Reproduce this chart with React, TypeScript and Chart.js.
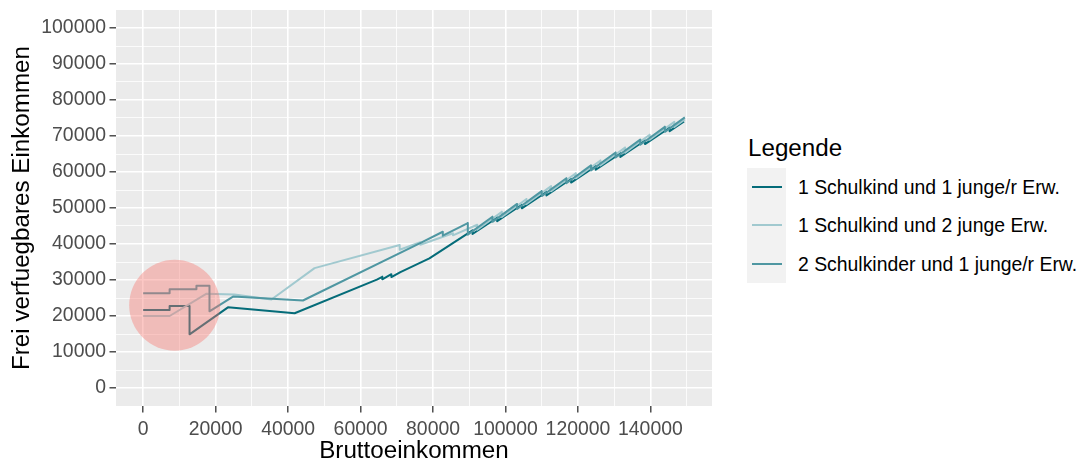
import React, { useEffect, useRef } from "react";
import { Chart, registerables } from "chart.js";

Chart.register(...registerables);

const FONT = '"Liberation Sans", Arial, Helvetica, sans-serif';

const seriesNames = [
  "1 Schulkind und 1 junge/r Erw.",
  "1 Schulkind und 2 junge Erw.",
  "2 Schulkinder und 1 junge/r Erw.",
];
const seriesColors = ["#056C79", "#A1C9CF", "#4F97A2"];

// 1 Schulkind und 1 junge/r Erw.
const s1Income = [0, 7300, 7300, 12800, 12800, 23400, 41800, 64500, 66000, 66000, 68500, 68500, 71000, 79000, 90900, 90900, 97700, 97700, 104500, 104500, 111300, 111300, 118100, 118100, 124900, 124900, 131700, 131700, 138500, 138500, 145300, 145300, 149300];
const s1Value = [21700, 21700, 22800, 22800, 14900, 22400, 20750, 30100, 30900, 30200, 31600, 30800, 32200, 36000, 43772, 42772, 47342, 46342, 50912, 49912, 54482, 53482, 58052, 57052, 61622, 60622, 65192, 64192, 68762, 67762, 72332, 71332, 74020];

// 1 Schulkind und 2 junge Erw.
const s2Income = [0, 7300, 17500, 25200, 35400, 47300, 70800, 70800, 76500, 76500, 85500, 85500, 92200, 92200, 99000, 99000, 105800, 105800, 112600, 112600, 119400, 119400, 126200, 126200, 133000, 133000, 139800, 139800, 146600, 146600, 149500];
const s2Value = [20000, 20000, 26200, 26000, 24600, 33300, 39700, 38400, 40500, 39800, 43000, 42400, 45355, 43955, 48925, 47525, 52495, 51095, 56065, 54665, 59635, 58235, 63205, 61805, 66775, 65375, 70345, 68945, 73915, 72515, 74632];

// 2 Schulkinder und 1 junge/r Erw.
const s3Income = [0, 7300, 7300, 14700, 14700, 18300, 18300, 24800, 44100, 76300, 82700, 82700, 89600, 89600, 96400, 96400, 103200, 103200, 110000, 110000, 116800, 116800, 123600, 123600, 130400, 130400, 137200, 137200, 144000, 144000, 149500];
const s3Value = [26300, 26300, 27400, 27400, 28400, 28400, 21300, 25400, 24300, 40200, 43400, 42300, 45800, 42600, 47560, 46160, 51130, 49730, 54700, 53300, 58270, 56870, 61840, 60440, 65410, 64010, 68980, 67580, 72550, 71150, 75165];

const highlightIncome = [8700];
const highlightValue = [23000];

const xMajorTicks = [0, 20000, 40000, 60000, 80000, 100000, 120000, 140000];
const xMinorTicks = [10000, 30000, 50000, 70000, 90000, 110000, 130000, 150000];
const yMajorTicks = [0, 10000, 20000, 30000, 40000, 50000, 60000, 70000, 80000, 90000, 100000];
const yMinorTicks = [5000, 15000, 25000, 35000, 45000, 55000, 65000, 75000, 85000, 95000];

const toPoints = (xs: number[], ys: number[]) => xs.map((x, i) => ({ x, y: ys[i] }));

const panelBg = {
  id: "panelBg",
  beforeDraw(chart: any) {
    const { ctx, chartArea } = chart;
    ctx.save();
    ctx.fillStyle = "#EBEBEB";
    ctx.fillRect(chartArea.left, chartArea.top, chartArea.right - chartArea.left, chartArea.bottom - chartArea.top);
    ctx.restore();
  },
};

function gridFor(major: number[]) {
  return {
    color: "#FFFFFF",
    lineWidth: (c: any) => (major.includes(c.tick?.value) ? 1.6 : 0.8),
    tickColor: (c: any) => (major.includes(c.tick?.value) ? "#333333" : "rgba(0,0,0,0)"),
    tickLength: 6.5,
    tickWidth: 1.3,
    drawOnChartArea: true,
    drawTicks: true,
  };
}

export default function App() {
  const ref = useRef<HTMLCanvasElement>(null);

  useEffect(() => {
    const canvas = ref.current;
    if (!canvas) return;
    const lineStyle = { borderWidth: 2, pointRadius: 0, tension: 0, borderJoinStyle: "round" };
    const datasets: any[] = [
      {
        label: "highlight",
        data: toPoints(highlightIncome, highlightValue),
        showLine: false,
        pointRadius: 45.5,
        pointBackgroundColor: "rgba(248,118,109,0.4)",
        pointBorderWidth: 0,
        pointBorderColor: "rgba(0,0,0,0)",
        order: 0,
      },
      { label: seriesNames[2], data: toPoints(s3Income, s3Value), borderColor: seriesColors[2], ...lineStyle, order: 1 },
      { label: seriesNames[1], data: toPoints(s2Income, s2Value), borderColor: seriesColors[1], ...lineStyle, order: 2 },
      { label: seriesNames[0], data: toPoints(s1Income, s1Value), borderColor: seriesColors[0], ...lineStyle, order: 3 },
    ];

    const chart = new Chart(canvas, {
      type: "line",
      data: { datasets },
      plugins: [panelBg],
      options: {
        responsive: false,
        animation: false,
        events: [],
        layout: { autoPadding: false, padding: { left: 0, right: 8, top: 10, bottom: 0 } },
        plugins: { legend: { display: false }, tooltip: { enabled: false }, title: { display: false } },
        scales: {
          x: {
            type: "linear",
            min: -7500,
            max: 157000,
            afterBuildTicks: (s: any) => {
              s.ticks = [...xMajorTicks, ...xMinorTicks].sort((a, b) => a - b).map((v) => ({ value: v }));
            },
            afterFit: (s: any) => {
              s.height = 60;
              s.paddingLeft = 0;
              s.paddingRight = 0;
            },
            ticks: {
              autoSkip: false,
              maxRotation: 0,
              minRotation: 0,
              padding: 6,
              color: "#4D4D4D",
              font: { family: FONT, size: 19.4 },
              callback: (v: any) => (xMajorTicks.includes(v) ? String(v) : ""),
            },
            grid: gridFor(xMajorTicks),
            border: { display: false },
            title: {
              display: true,
              text: "Bruttoeinkommen",
              color: "#000000",
              font: { family: FONT, size: 24.2 },
              padding: { top: 0, bottom: 0 },
            },
          },
          y: {
            type: "linear",
            min: -5000,
            max: 105000,
            afterBuildTicks: (s: any) => {
              s.ticks = [...yMajorTicks, ...yMinorTicks].sort((a, b) => a - b).map((v) => ({ value: v }));
            },
            afterFit: (s: any) => {
              s.width = 116;
              s.paddingTop = 0;
              s.paddingBottom = 0;
            },
            ticks: {
              autoSkip: false,
              padding: 3.5,
              color: "#4D4D4D",
              font: { family: FONT, size: 19.4 },
              callback: (v: any) => (yMajorTicks.includes(v) ? String(v) : ""),
            },
            grid: gridFor(yMajorTicks),
            border: { display: false },
            title: {
              display: true,
              text: "Frei verfuegbares Einkommen",
              color: "#000000",
              font: { family: FONT, size: 24.2 },
              padding: { top: 8, bottom: 0 },
            },
          },
        },
      } as any,
    });
    return () => chart.destroy();
  }, []);

  const rowTop = 168;
  const rowH = 38.3;

  return (
    <div style={{ position: "absolute", left: 0, top: 0, width: 1086, height: 466, background: "#FFFFFF", overflow: "hidden", fontFamily: FONT }}>
      <canvas ref={ref} width={720} height={466} style={{ position: "absolute", left: 0, top: 0, width: 720, height: 466 }} />
      <div style={{ position: "absolute", left: 748, top: 133.5, fontSize: 24.2, lineHeight: "28px", color: "#000", whiteSpace: "nowrap" }}>Legende</div>
      <div style={{ position: "absolute", left: 747, top: rowTop, width: 39, height: rowH * 3, background: "#F2F2F2" }} />
      {seriesNames.map((name, i) => (
        <React.Fragment key={name}>
          <div style={{ position: "absolute", left: 752, top: rowTop + rowH * i + rowH / 2 - 1, width: 30, height: 2, background: seriesColors[i] }} />
          <div style={{ position: "absolute", left: 798, top: rowTop + rowH * i, height: rowH, lineHeight: rowH + "px", fontSize: 19.4, color: "#000", whiteSpace: "nowrap" }}>{name}</div>
        </React.Fragment>
      ))}
    </div>
  );
}
